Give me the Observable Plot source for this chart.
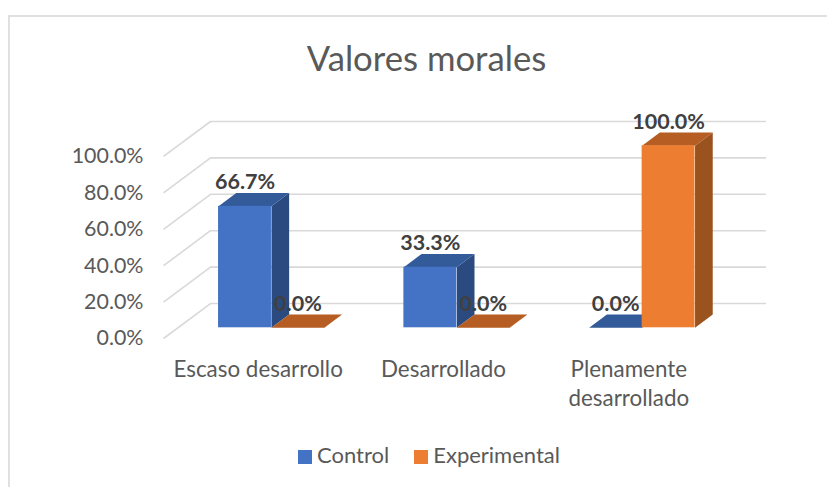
<!DOCTYPE html>
<html><head><meta charset="utf-8">
<script src="https://cdn.jsdelivr.net/npm/d3@7"></script>
<script src="https://cdn.jsdelivr.net/npm/@observablehq/plot@0.6"></script>
<style>
html,body{margin:0;padding:0;background:#fff;}
#frame{position:relative;width:827px;height:487px;overflow:hidden;font-family:Lato,sans-serif;}
#frame:before{content:"";position:absolute;left:8px;top:15px;right:-5px;bottom:-5px;border:2px solid #e0e0e0;}
#title{position:relative;left:13px;height:85px;box-sizing:border-box;padding-top:38px;text-align:center;font-size:34.7px;line-height:40px;color:#595959;white-space:nowrap;}
#chart{position:relative;height:345px;}
#chart svg{display:block;}
#legend{position:relative;top:-1px;display:flex;justify-content:center;align-items:center;gap:25px;font-size:22px;color:#595959;height:50px;padding-left:31px;}
#legend span.k{display:inline-block;width:14px;height:14px;margin-right:5px;vertical-align:-1px;}
</style></head><body>
<div id="frame">
<div id="title">Valores morales</div>
<div id="chart"></div>
<div id="legend"></div>
</div>
<script>
const categories = ["Escaso desarrollo", "Desarrollado", "Plenamente\ndesarrollado"];
const control = [66.7, 33.3, 0];
const experimental = [0, 0, 100];
const yTicks = [0, 20, 40, 60, 80, 100];

const blue = {front:"#4472C4", side:"#2B4A80", top:"#335A99"};
const orange = {front:"#ED7D31", side:"#9A521F", top:"#B55D22"};

// oblique projection, in scale units
const wallX = 0.2536, wallY = 19.2;
const depthX = 0.0955, depthY = 7.3;
const floorY = 5.88, startX = 0.297, barW = 0.2855;

const bars = [];
categories.forEach((c, i) => {
  [[control[i], blue, 0, "Control"], [experimental[i], orange, 1, "Experimental"]].forEach(([v, col, s, name]) => {
    const x1 = i + startX + s * barW, x2 = x1 + barW;
    bars.push({id: `${i}-${s}`, v, col, x1, x2, y1: floorY, y2: floorY + v, name});
  });
});

const faces = [];
bars.forEach(b => {
  const add = (face, color, pts) => pts.forEach(([x, y]) => faces.push({id: b.id + face, color, x, y}));
  if (b.v > 0) add("s", b.col.side, [[b.x2, b.y1], [b.x2 + depthX, b.y1 + depthY], [b.x2 + depthX, b.y2 + depthY], [b.x2, b.y2]]);
  add("t", b.col.top, [[b.x1, b.y2], [b.x2, b.y2], [b.x2 + depthX, b.y2 + depthY], [b.x1 + depthX, b.y2 + depthY]]);
});

const pct = d => d3.format(".1f")(d) + "%";
const labelFont = "Lato, sans-serif";

const plot = Plot.plot({
  width: 827, height: 345,
  marginLeft: 163, marginRight: 61, marginTop: 36, marginBottom: 92,
  style: {fontFamily: labelFont, background: "transparent", overflow: "visible"},
  x: {domain: [0, 3 + wallX], axis: null},
  y: {domain: [0, 100 + wallY], axis: null},
  marks: [
    Plot.ruleY(yTicks, {y: d => d + wallY, x1: wallX, x2: 3 + wallX, stroke: "#d9d9d9", strokeWidth: 1.6}),
    Plot.link(yTicks, {x1: 0, y1: d => d, x2: wallX, y2: d => d + wallY, stroke: "#d9d9d9", strokeWidth: 1.6}),
    Plot.axisY({ticks: yTicks, tickSize: 0, tickPadding: 20, tickFormat: pct, fontSize: 21.4, color: "#595959", label: null, anchor: "left"}),
    Plot.axisX({ticks: [0.5, 1.5, 2.5], tickSize: 0, tickPadding: 17, tickFormat: d => categories[Math.floor(d)], fontSize: 22.4, lineHeight: 1.32, color: "#595959", label: null, lineAnchor: "top", dx: 2}),
    Plot.line(faces, {x: "x", y: "y", z: "id", fill: d => d.color, stroke: "none", curve: "linear"}),
    Plot.rect(bars.filter(b => b.v > 0), {x1: "x1", x2: "x2", y1: "y1", y2: "y2", fill: d => d.col.front, inset: 0}),
    Plot.text(bars, {x: d => (d.x1 + d.x2) / 2, y: "y2", text: d => pct(d.v), dy: -24, fontSize: 21.5, fontWeight: 700, fill: "#404040"})
  ]
});
document.getElementById("chart").append(plot);

const legend = document.getElementById("legend");
[["Control", blue.front], ["Experimental", orange.front]].forEach(([n, c]) => {
  const d = document.createElement("div");
  d.innerHTML = `<span class="k" style="background:${c}"></span>${n}`;
  legend.append(d);
});
</script>
</body></html>
